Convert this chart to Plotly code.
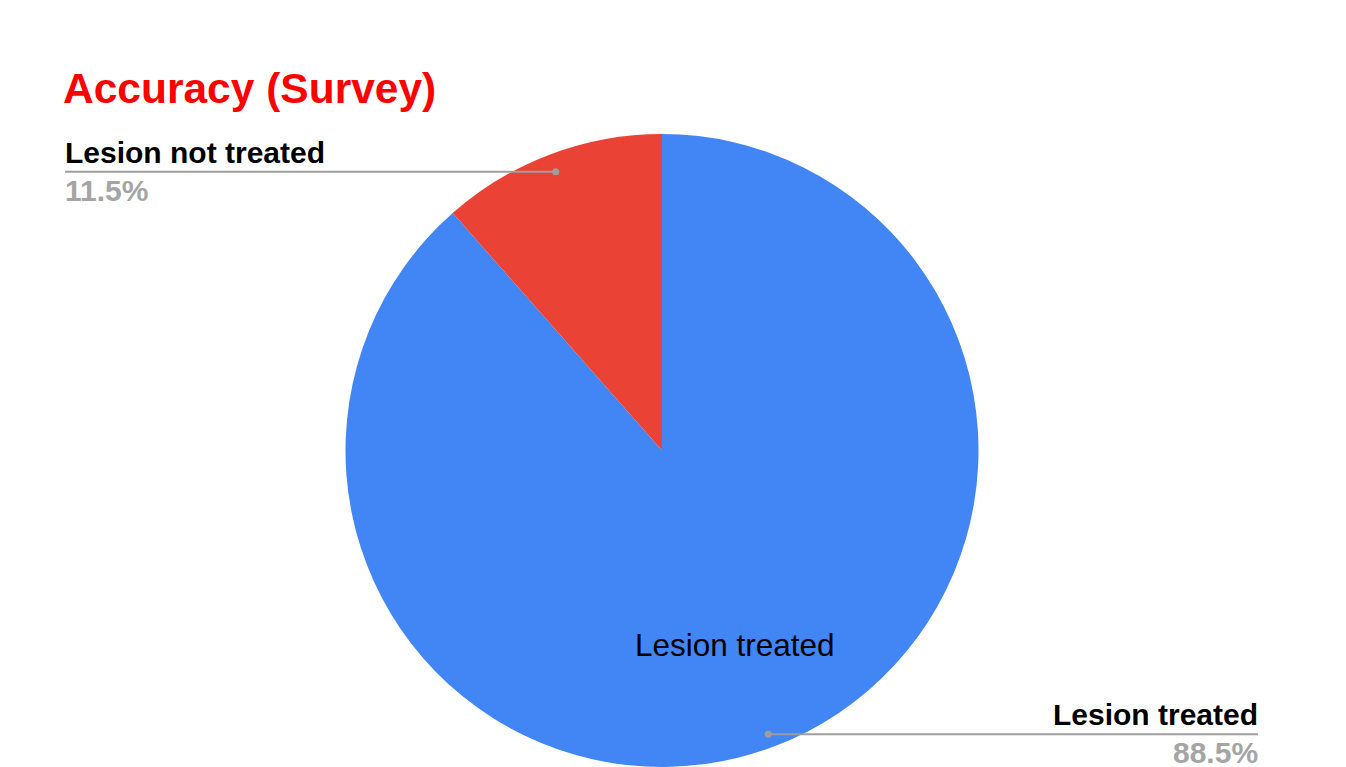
import math
import plotly.graph_objects as go

# ---- data ----
labels = ["Lesion not treated", "Lesion treated"]
values = [11.5, 88.5]
colors = ["#EA4335", "#4285F4"]
title_text = "Accuracy (Survey)"

W, H = 1346, 767
FONT = "Arial, 'Liberation Sans', sans-serif"

# pie geometry (pixels)
cx = 662
R = 316.5
dom_x = [(cx - R) / W, (cx + R) / W]
dom_y = [0, (2 * R) / H]
cy = H - R  # from top

# drawn clockwise from 12 o'clock with the large slice first, so the small
# slice ends at 12 o'clock on the left side
fig = go.Figure(go.Pie(
    labels=labels[::-1], values=values[::-1], sort=False,
    direction="clockwise", rotation=0,
    marker=dict(colors=colors[::-1], line=dict(width=0)),
    textinfo="none", hoverinfo="label+percent",
    domain=dict(x=dom_x, y=dom_y), showlegend=False,
))

total = sum(values)
fracs = [v / total for v in values]

def px_to_paper(x, y):
    return x / W, 1 - y / H

# mid-angles (degrees, counterclockwise from 12 o'clock)
mids = []
acc = 0.0
for f in fracs:
    mids.append((acc + f / 2) * 360)
    acc += f

def point(theta_deg, r):
    t = math.radians(theta_deg)
    return cx - r * math.sin(t), cy - r * math.cos(t)

annotations = []
shapes = []
LINE_COLOR = "#9E9E9E"
label_x = [65, 1258]
for i, (lab, v) in enumerate(zip(labels, values)):
    dx, dy = point(mids[i], 0.95 * R)
    dy += 2.5
    lx = label_x[i]
    x0, y0 = px_to_paper(dx, dy)
    x1, _ = px_to_paper(lx, dy)
    shapes.append(dict(type="line", xref="paper", yref="paper",
                       x0=x0, y0=y0, x1=x1, y1=y0,
                       line=dict(color=LINE_COLOR, width=2)))
    r = 3.5
    shapes.append(dict(type="circle", xref="paper", yref="paper",
                       x0=(dx - r) / W, x1=(dx + r) / W,
                       y0=1 - (dy + r) / H, y1=1 - (dy - r) / H,
                       fillcolor=LINE_COLOR, line=dict(width=0)))
    anchor = "left" if i == 0 else "right"
    tx = x1 + (-2 / W if i == 0 else 2 / W)
    annotations.append(dict(text=f"<b>{lab}</b>", x=tx, y=y0 + 1 / H,
                            xref="paper", yref="paper", xanchor=anchor,
                            yanchor="bottom", showarrow=False,
                            font=dict(family=FONT, size=30, color="#000000")))
    annotations.append(dict(text=f"<b>{v}%</b>", x=tx, y=y0 - 0 / H,
                            xref="paper", yref="paper", xanchor=anchor,
                            yanchor="top", showarrow=False,
                            font=dict(family=FONT, size=30, color="#A5A5A5")))

# inside label for the large slice
ix, iy = point(mids[1], 0.65 * R)
annotations.append(dict(text=labels[1], x=ix / W, y=1 - (iy + 2) / H,
                        xref="paper", yref="paper", xanchor="center",
                        yanchor="middle", showarrow=False,
                        font=dict(family=FONT, size=31.5, color="#000000")))

fig.update_layout(
    width=W, height=H,
    margin=dict(l=0, r=0, t=0, b=0),
    paper_bgcolor="white", plot_bgcolor="white",
    title=dict(text=title_text, x=63 / W, xanchor="left", xref="paper",
               y=1 - 88 / H, yanchor="middle", yref="container",
               font=dict(family=FONT, size=42.5, color="#FF0000", weight="bold")),
    annotations=annotations, shapes=shapes,
)

fig.write_html("out.html")
